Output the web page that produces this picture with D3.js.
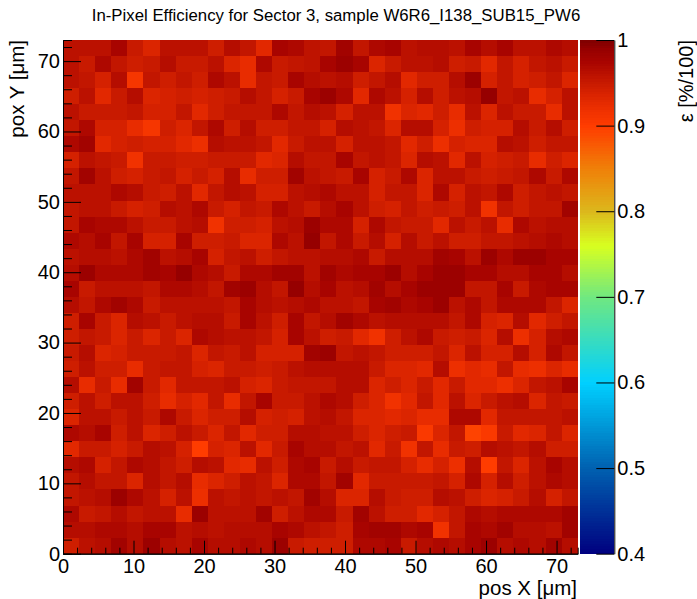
<!DOCTYPE html>
<html>
<head>
<meta charset="utf-8">
<script src="https://cdn.jsdelivr.net/npm/d3@7"></script>
<style>
  body { margin: 0; background: #fff; }
  text { font-family: "Liberation Sans", Arial, sans-serif; fill: #000; }
</style>
</head>
<body>
<script>
// efficiency per mille, rows listed from the top of the plot (pos Y high) down
var eff = [
  [960,960,960,975,950,935,960,960,960,945,965,955,930,975,970,958,955,980,955,970,975,960,965,965,960,975,965,975,960,960,970,965],
  [960,950,970,955,945,950,965,950,950,960,935,925,970,950,955,958,975,985,975,935,950,960,960,965,945,950,930,955,940,955,960,950],
  [960,955,940,965,910,955,945,955,945,970,960,925,955,950,975,965,960,965,945,955,965,930,945,945,965,985,940,955,940,945,955,935],
  [945,960,930,950,965,935,940,945,940,945,950,965,955,940,950,975,985,970,930,970,960,940,965,945,960,965,990,955,960,925,940,960],
  [960,950,950,950,955,940,940,955,930,945,955,955,955,970,955,965,960,940,960,960,915,935,930,945,925,960,935,960,950,950,925,960],
  [955,970,940,940,925,910,945,935,955,970,945,965,945,945,955,955,940,965,960,955,935,965,965,940,920,945,940,940,965,950,965,945],
  [970,980,930,940,945,940,940,930,920,965,960,960,955,930,950,960,960,940,960,960,955,930,945,920,940,935,935,965,960,945,955,955],
  [940,960,955,950,915,950,950,945,945,950,950,950,930,935,965,955,955,975,955,960,955,935,965,960,930,960,940,945,950,925,945,935],
  [955,980,960,945,940,950,955,940,950,940,965,925,945,945,980,960,955,950,975,940,950,970,935,960,960,950,945,950,955,970,950,970],
  [960,960,960,970,965,950,945,960,930,955,965,960,940,940,960,965,970,960,960,940,955,955,935,970,940,960,955,970,945,955,960,955],
  [955,960,960,950,940,945,965,960,970,950,940,955,950,970,960,950,965,975,960,945,940,955,945,950,945,960,915,955,945,955,955,980],
  [955,975,970,970,960,950,950,960,965,915,945,945,940,960,965,985,970,970,940,970,955,950,950,930,960,950,960,925,970,960,965,965],
  [970,965,975,955,975,940,940,975,945,945,950,935,935,970,960,990,955,970,950,965,940,965,950,960,945,945,955,955,960,965,970,965],
  [960,965,965,960,970,980,960,965,975,940,955,960,945,955,960,960,965,965,970,950,965,965,965,980,975,960,985,970,985,985,975,975],
  [965,985,970,970,970,980,975,990,970,965,950,970,970,980,980,960,980,970,975,975,985,965,975,985,985,975,975,965,965,975,975,965],
  [975,950,960,960,960,955,970,970,965,955,980,985,965,955,990,965,975,960,965,980,965,975,985,985,985,955,955,975,950,970,975,975],
  [965,955,970,980,970,950,960,960,960,960,955,975,965,960,965,970,960,960,955,975,980,970,975,985,960,970,955,970,970,970,955,935],
  [945,975,950,935,965,960,950,960,965,965,950,975,960,945,975,955,965,980,970,960,965,965,965,965,955,970,940,935,965,930,945,955],
  [945,955,950,935,950,935,950,935,970,965,960,960,955,940,975,960,945,950,930,915,945,960,970,950,945,950,935,965,920,940,965,970],
  [950,965,935,940,950,950,950,955,935,955,950,960,940,940,940,980,985,955,960,955,945,945,945,955,935,960,940,940,965,940,970,955],
  [945,960,945,945,925,950,955,955,940,935,950,950,945,950,960,965,965,965,965,950,935,935,930,965,920,930,925,955,925,920,935,925],
  [965,925,950,925,980,950,930,955,955,955,960,940,935,950,955,955,955,965,965,935,945,935,950,930,950,930,930,920,935,955,960,975],
  [945,960,945,960,960,945,925,940,930,955,925,955,975,950,950,960,970,965,945,935,915,930,955,930,960,935,950,960,965,935,955,950],
  [935,960,960,950,960,950,970,950,935,945,945,965,940,945,940,960,965,955,935,935,930,935,925,925,970,970,930,955,955,955,955,960],
  [970,965,975,945,960,935,945,960,950,935,955,930,945,945,965,965,960,960,945,935,945,950,905,935,955,895,905,950,930,935,955,935],
  [930,950,950,940,950,965,960,940,900,940,935,960,930,950,975,965,965,955,960,930,950,915,955,925,950,945,965,960,955,965,945,945],
  [965,970,940,955,970,965,955,945,965,960,930,925,960,945,970,975,950,965,950,955,955,940,925,940,920,965,900,955,935,960,975,965],
  [955,965,955,955,935,965,955,965,925,935,945,960,955,935,970,970,955,980,930,950,950,950,950,955,940,970,940,965,945,960,970,965],
  [955,960,965,985,970,960,940,960,920,960,955,960,955,960,955,980,965,935,935,965,950,945,945,965,960,945,935,940,950,965,940,955],
  [970,950,955,965,955,960,960,925,985,960,960,960,980,945,960,970,970,950,980,960,945,945,930,940,955,970,965,970,970,970,970,980],
  [965,965,970,970,965,975,975,960,965,960,965,965,965,975,970,960,955,945,975,980,980,970,975,915,955,975,970,980,965,965,960,980],
  [945,960,965,980,965,985,965,960,975,965,965,970,965,985,950,945,945,945,970,970,975,950,965,970,965,975,985,965,970,965,980,965]
];

var xMajor = [0, 10, 20, 30, 40, 50, 60, 70];
var yMajor = [0, 10, 20, 30, 40, 50, 60, 70];
var zTicks = [0.4, 0.5, 0.6, 0.7, 0.8, 0.9, 1];
var zStops = [0.4, 0.5, 0.6, 0.7, 0.76, 0.8, 0.85, 0.9, 0.925, 0.95, 0.975, 0.99, 1];
var zColors = ["#00007f", "#0060b0", "#00d0ff", "#70e880", "#d8ff20", "#dcb81c", "#f08008", "#ff3c00", "#e82c00", "#c81a00", "#a80400", "#960000", "#7f0000"];

var range = 73, levels = 200;
var left = 63, right = 577.7, top_ = 40, bottom = 553.7;
var barLeft = 580, barRight = 614.3;

var svg = d3.select("body").append("svg")
  .attr("width", 697)
  .attr("height", 599);

var x = d3.scaleLinear().domain([0, range]).range([left, right]);
var y = d3.scaleLinear().domain([0, range]).range([bottom, top_]);
var z = d3.scaleLinear().domain([0.4, 1]).range([bottom, top_]);
var ramp = d3.scaleLinear().domain(zStops).range(zColors);

var cell = range / eff.length;
var cells = [];
eff.forEach(function (row, r) {
  row.forEach(function (v, c) {
    cells.push({ r: r, c: c, v: v / 1000 });
  });
});

svg.append("g").attr("shape-rendering", "crispEdges").selectAll("rect")
  .data(cells)
  .join("rect")
  .attr("x", function (d) { return x(d.c * cell); })
  .attr("y", function (d) { return y(range - d.r * cell); })
  .attr("width", x(cell) - x(0))
  .attr("height", y(0) - y(cell))
  .attr("fill", function (d) { return ramp(d.v); });

// colour bar
svg.append("g").attr("shape-rendering", "crispEdges").selectAll("rect")
  .data(d3.range(levels))
  .join("rect")
  .attr("x", barLeft)
  .attr("y", function (i) { return z(0.4 + (i + 1) * 0.6 / levels); })
  .attr("width", barRight - barLeft)
  .attr("height", z(0.4) - z(0.4 + 0.6 / levels) + 0.5)
  .attr("fill", function (i) { return ramp(0.4 + (i + 0.5) * 0.6 / levels); });

var minorOf = function (major) {
  return d3.range(0, range, 2).filter(function (t) { return major.indexOf(t) < 0; });
};

var styleAxis = function (g) {
  g.selectAll("path,line").attr("stroke", "#000").attr("stroke-width", 1);
  g.selectAll("text").attr("font-size", 20).attr("fill", "#000");
};

svg.append("g").attr("transform", "translate(0," + bottom + ")")
  .call(d3.axisBottom(x).tickValues(minorOf(xMajor)).tickSize(-6).tickFormat(""))
  .call(styleAxis);
svg.append("g").attr("transform", "translate(0," + bottom + ")")
  .call(d3.axisBottom(x).tickValues(xMajor).tickSizeInner(-13).tickSizeOuter(0).tickPadding(6).tickFormat(d3.format("d")))
  .call(styleAxis)
  .selectAll("text").attr("dy", "0.71em").attr("y", 5);

svg.append("g").attr("transform", "translate(" + left + ",0)")
  .call(d3.axisLeft(y).tickValues(minorOf(yMajor)).tickSize(-9).tickFormat(""))
  .call(styleAxis);
svg.append("g").attr("transform", "translate(" + left + ",0)")
  .call(d3.axisLeft(y).tickValues(yMajor).tickSizeInner(-18).tickSizeOuter(0).tickPadding(3).tickFormat(d3.format("d")))
  .call(styleAxis);

svg.append("g").attr("transform", "translate(" + barRight + ",0)")
  .call(d3.axisRight(z).tickValues(zTicks).tickSizeInner(-18).tickSizeOuter(0).tickPadding(3)
    .tickFormat(function (d) { return d === 1 ? "1" : d3.format(".1f")(d); }))
  .call(styleAxis);

svg.append("text")
  .attr("x", 336).attr("y", 21)
  .attr("text-anchor", "middle")
  .attr("font-size", 16.8)
  .text("In-Pixel Efficiency for Sector 3, sample W6R6_I138_SUB15_PW6");

svg.append("text")
  .attr("x", 577).attr("y", 595)
  .attr("text-anchor", "end")
  .attr("font-size", 20.5)
  .text("pos X [μm]");

svg.append("text")
  .attr("transform", "translate(24,40) rotate(-90)")
  .attr("text-anchor", "end")
  .attr("font-size", 20.5)
  .text("pox Y [μm]");

svg.append("text")
  .attr("transform", "translate(693,40) rotate(-90)")
  .attr("text-anchor", "end")
  .attr("font-size", 20)
  .text("ε [%/100]");
</script>
</body>
</html>
